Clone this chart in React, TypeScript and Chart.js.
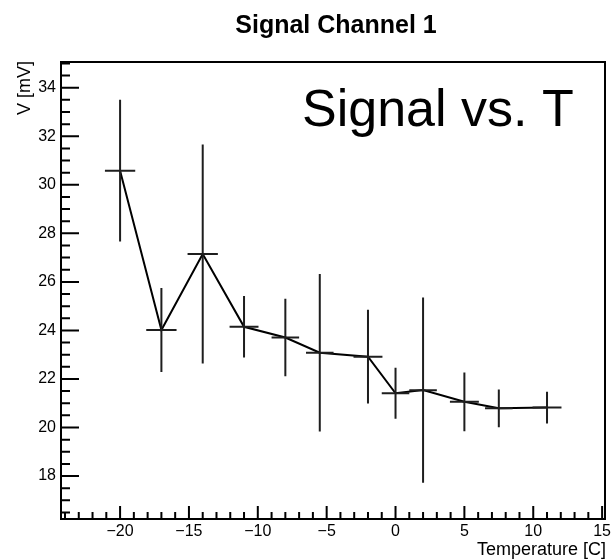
import React, { useEffect, useRef } from "react";
import { Chart, registerables } from "chart.js";

Chart.register(...registerables);

// ---- data ----
const temperatures = [-20, -17, -14, -11, -8, -5.5, -2, 0, 2, 5, 7.5, 11];
const signals = [30.58, 24.02, 27.15, 24.15, 23.71, 23.08, 22.92, 21.41, 21.54, 21.06, 20.79, 20.82];
const signalErrors = [2.92, 1.73, 4.51, 1.27, 1.6, 3.24, 1.93, 1.05, 3.82, 1.21, 0.78, 0.65];
const temperatureErrors = [1.1, 1.1, 1.1, 1.05, 1.0, 1.0, 1.05, 1.0, 1.0, 1.05, 1.0, 1.05];

const xTickValues = [-20, -15, -10, -5, 0, 5, 10, 15];
const yTickValues = [18, 20, 22, 24, 26, 28, 30, 32, 34];
const xMinorStep = 1;
const yMinorStep = 0.5;

const X_MIN = -24.29;
const X_MAX = 15.21;
const Y_MIN = 16.23;
const Y_MAX = 35.06;

const chartTitle = "Signal Channel 1";
const legendText = "Signal vs. T";
const xTitle = "Temperature [C]";
const yTitle = "V [mV]";

const FONT = "'Liberation Sans', Arial, Helvetica, sans-serif";

const fmt = (v: number) => (v < 0 ? "\u2212" + Math.abs(v) : String(v));

const rootStylePlugin = {
  id: "rootStyle",
  afterDatasetsDraw(chart: any) {
    const { ctx, scales } = chart;
    const x = scales.x;
    const y = scales.y;
    ctx.save();
    ctx.strokeStyle = "#1e1e1e";
    ctx.lineWidth = 2;
    ctx.lineCap = "butt";
    temperatures.forEach((t, i) => {
      const px = x.getPixelForValue(t);
      const py = y.getPixelForValue(signals[i]);
      const top = y.getPixelForValue(signals[i] + signalErrors[i]);
      const bot = y.getPixelForValue(signals[i] - signalErrors[i]);
      const l = x.getPixelForValue(t - temperatureErrors[i]);
      const r = x.getPixelForValue(t + temperatureErrors[i]);
      ctx.beginPath();
      ctx.moveTo(px, top);
      ctx.lineTo(px, bot);
      ctx.moveTo(l, py);
      ctx.lineTo(r, py);
      ctx.stroke();
    });
    ctx.restore();
  },
  afterDraw(chart: any) {
    const { ctx, chartArea, scales } = chart;
    const x = scales.x;
    const y = scales.y;
    const { left, right, top, bottom } = chartArea;
    ctx.save();
    ctx.strokeStyle = "#000";
    ctx.lineWidth = 2;
    // frame
    ctx.strokeRect(left, top, right - left, bottom - top);

    // x ticks (inside, from bottom axis)
    ctx.beginPath();
    for (let v = Math.ceil(X_MIN); v <= X_MAX; v += xMinorStep) {
      const px = x.getPixelForValue(v);
      const major = xTickValues.includes(v);
      ctx.moveTo(px, bottom);
      ctx.lineTo(px, bottom - (major ? 13 : 7));
    }
    // y ticks (inside, from left axis)
    for (let v = Math.ceil(Y_MIN / yMinorStep) * yMinorStep; v <= Y_MAX; v += yMinorStep) {
      const py = y.getPixelForValue(v);
      const major = yTickValues.includes(Math.round(v * 10) / 10);
      ctx.moveTo(left, py);
      ctx.lineTo(left + (major ? 18 : 9), py);
    }
    ctx.stroke();

    ctx.fillStyle = "#000";
    // chart title
    ctx.textAlign = "center";
    ctx.textBaseline = "alphabetic";
    ctx.font = `bold 25px ${FONT}`;
    ctx.fillText(chartTitle, 336, 33);

    // legend text
    ctx.textAlign = "left";
    ctx.font = `52px ${FONT}`;
    ctx.fillText(legendText, 302, 126);

    // x title
    ctx.textAlign = "right";
    ctx.font = `18px ${FONT}`;
    ctx.fillText(xTitle, 606, 555);

    // y title
    ctx.save();
    ctx.translate(30, 61);
    ctx.rotate(-Math.PI / 2);
    ctx.textAlign = "right";
    ctx.font = `18px ${FONT}`;
    ctx.fillText(yTitle, 0, 0);
    ctx.restore();

    ctx.restore();
  },
};

export default function App() {
  const canvasRef = useRef<HTMLCanvasElement | null>(null);

  useEffect(() => {
    if (!canvasRef.current) return;
    const chart = new Chart(canvasRef.current, {
      type: "scatter",
      data: {
        datasets: [
          {
            data: temperatures.map((t, i) => ({ x: t, y: signals[i] })),
            showLine: true,
            borderColor: "#000",
            borderWidth: 2,
            pointRadius: 0,
            tension: 0,
            fill: false,
          },
        ],
      },
      options: {
        animation: false,
        responsive: false,
        devicePixelRatio: 1,
        layout: { padding: { top: 62, right: 8, left: 0, bottom: 0 } },
        plugins: {
          legend: { display: false },
          tooltip: { enabled: false },
          title: { display: false },
        },
        scales: {
          x: {
            type: "linear",
            min: X_MIN,
            max: X_MAX,
            grid: { display: false, drawTicks: false },
            border: { display: false },
            afterBuildTicks: (s: any) => {
              s.ticks = xTickValues.map((v) => ({ value: v }));
            },
            afterFit: (s: any) => {
              s.height = 40;
              s.paddingLeft = 0;
              s.paddingRight = 0;
            },
            ticks: {
              padding: 3,
              autoSkip: false,
              maxRotation: 0,
              color: "#000",
              font: { family: FONT, size: 16 },
              callback: (v: any) => fmt(Number(v)),
            },
          },
          y: {
            type: "linear",
            min: Y_MIN,
            max: Y_MAX,
            grid: { display: false, drawTicks: false },
            border: { display: false },
            afterBuildTicks: (s: any) => {
              s.ticks = yTickValues.map((v) => ({ value: v }));
            },
            afterFit: (s: any) => {
              s.width = 61;
              s.paddingTop = 0;
              s.paddingBottom = 0;
            },
            ticks: {
              padding: 5,
              autoSkip: false,
              color: "#000",
              font: { family: FONT, size: 16 },
              callback: (v: any) => fmt(Number(v)),
            },
          },
        },
      },
      plugins: [rootStylePlugin],
    } as any);
    return () => chart.destroy();
  }, []);

  return (
    <div style={{ position: "fixed", left: 0, top: 0, width: 613, height: 559, overflow: "hidden" }}>
      <canvas ref={canvasRef} width={613} height={559} style={{ display: "block" }} />
    </div>
  );
}
